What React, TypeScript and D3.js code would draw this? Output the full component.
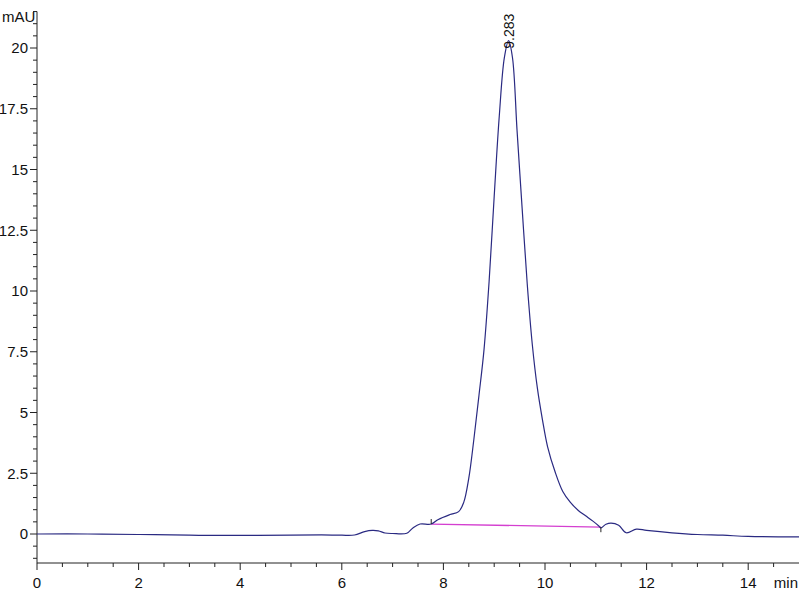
import React, { useEffect, useRef } from 'react'
import * as d3 from 'd3'

// retention time (min) and absorbance (mAU)
const times = [0, 1, 2, 3, 4, 5, 5.6, 6.0, 6.25, 6.45, 6.6, 6.72, 6.85, 7.0, 7.28, 7.4, 7.54, 7.76, 7.9, 8.13, 8.3, 8.4, 8.5, 8.6, 8.7, 8.8, 8.9, 9.0, 9.1, 9.2, 9.283, 9.36, 9.45, 9.55, 9.65, 9.75, 9.85, 9.95, 10.05, 10.2, 10.35, 10.5, 10.65, 10.8, 10.95, 11.06, 11.1, 11.2, 11.3, 11.45, 11.6, 11.8, 12.0, 12.5, 13.0, 13.5, 14.0, 15.0]
const signal = [0, 0, -0.02, -0.05, -0.06, -0.05, -0.04, -0.05, -0.04, 0.1, 0.15, 0.13, 0.04, 0.02, 0.03, 0.25, 0.41, 0.41, 0.6, 0.8, 0.92, 1.3, 2.3, 3.9, 5.7, 7.6, 10.4, 13.9, 17.2, 19.6, 20.3, 19.6, 16.6, 13.4, 10.3, 7.8, 6.0, 4.7, 3.6, 2.55, 1.75, 1.3, 0.98, 0.75, 0.52, 0.33, 0.25, 0.4, 0.45, 0.36, 0.05, 0.2, 0.15, 0.05, -0.02, -0.05, -0.1, -0.12]

const baselineTimes = [7.76, 11.1]
const baselineValues = [0.41, 0.28]

const peakTime = 9.283
const peakValue = 20.3
const peakLabel = '9.283'

const yTicks = [0, 2.5, 5, 7.5, 10, 12.5, 15, 17.5, 20]
const xTicks = [0, 2, 4, 6, 8, 10, 12, 14]

const App = () => {
  const ref = useRef<SVGSVGElement>(null)

  useEffect(() => {
    const svg = d3.select(ref.current)
    svg.selectAll('*').remove()

    const x = d3.scaleLinear().domain([0, 15]).range([37, 799])
    const y = d3.scaleLinear().domain([0, 20]).range([534, 48])
    const font = '"Liberation Sans Narrow", "Liberation Sans", Arial, sans-serif'

    // y axis
    const gy = svg.append('g').attr('transform', 'translate(37,0)')
    gy.append('line').attr('x1', 0).attr('x2', 0).attr('y1', y(21.5)).attr('y2', y(-1.2)).attr('stroke', '#222')
    const yMinor = d3.range(-1, 21.6, 0.5).filter(v => !yTicks.includes(v))
    gy.selectAll('.ymin').data(yMinor).enter().append('line')
      .attr('x1', -4).attr('x2', 0).attr('y1', d => y(d)).attr('y2', d => y(d)).attr('stroke', '#222')
    gy.selectAll('.ymaj').data(yTicks).enter().append('line')
      .attr('x1', -7).attr('x2', 0).attr('y1', d => y(d)).attr('y2', d => y(d)).attr('stroke', '#222')
    gy.selectAll('.ylab').data(yTicks).enter().append('text')
      .attr('x', -9).attr('y', d => y(d)).attr('dy', '0.35em')
      .attr('text-anchor', 'end').attr('font-family', font).attr('font-size', 15).attr('fill', '#111')
      .text(d => String(d))
    svg.append('text').attr('x', 2).attr('y', 22).attr('font-family', font).attr('font-size', 15).attr('fill', '#111').text('mAU')

    // x axis
    const gx = svg.append('g').attr('transform', 'translate(0,563)')
    gx.append('line').attr('x1', x(0)).attr('x2', x(15)).attr('y1', 0).attr('y2', 0).attr('stroke', '#222')
    const xMinor = d3.range(0.5, 15, 0.5).filter(v => !xTicks.includes(v))
    gx.selectAll('.xmin').data(xMinor).enter().append('line')
      .attr('x1', d => x(d)).attr('x2', d => x(d)).attr('y1', 0).attr('y2', 4).attr('stroke', '#222')
    gx.selectAll('.xmaj').data(xTicks).enter().append('line')
      .attr('x1', d => x(d)).attr('x2', d => x(d)).attr('y1', 0).attr('y2', 7).attr('stroke', '#222')
    gx.selectAll('.xlab').data(xTicks).enter().append('text')
      .attr('x', d => x(d)).attr('y', 25)
      .attr('text-anchor', 'middle').attr('font-family', font).attr('font-size', 15).attr('fill', '#111')
      .text(d => String(d))
    gx.append('text').attr('x', 798).attr('y', 25).attr('text-anchor', 'end')
      .attr('font-family', font).attr('font-size', 15).attr('fill', '#111').text('min')

    // integration baseline
    const bl = d3.line<number>().x((d, i) => x(baselineTimes[i])).y(d => y(d))
    svg.append('path').attr('d', bl(baselineValues)).attr('fill', 'none')
      .attr('stroke', '#d43fd0').attr('stroke-width', 1.3)

    // trace
    const line = d3.line<number>().x((d, i) => x(times[i])).y(d => y(d)).curve(d3.curveCatmullRom.alpha(0.5))
    svg.append('path').attr('d', line(signal)).attr('fill', 'none')
      .attr('stroke', '#2a2a82').attr('stroke-width', 1.2)

    // peak start / end markers
    svg.append('line').attr('x1', x(baselineTimes[0])).attr('x2', x(baselineTimes[0]))
      .attr('y1', y(baselineValues[0])).attr('y2', y(baselineValues[0]) - 5).attr('stroke', '#222')
    svg.append('line').attr('x1', x(baselineTimes[1])).attr('x2', x(baselineTimes[1]))
      .attr('y1', y(baselineValues[1])).attr('y2', y(baselineValues[1]) + 5).attr('stroke', '#222')

    // peak label
    svg.append('text')
      .attr('transform', `translate(${x(peakTime) + 5},${y(peakValue) + 8}) rotate(-90)`)
      .attr('font-family', font).attr('font-size', 14).attr('fill', '#111')
      .text(peakLabel)
  }, [])

  return (
    <div style={{ position: 'absolute', left: 0, top: 0 }}>
      <svg ref={ref} width={800} height={600} style={{ display: 'block', background: '#fff' }}></svg>
    </div>
  )
}

export default App
